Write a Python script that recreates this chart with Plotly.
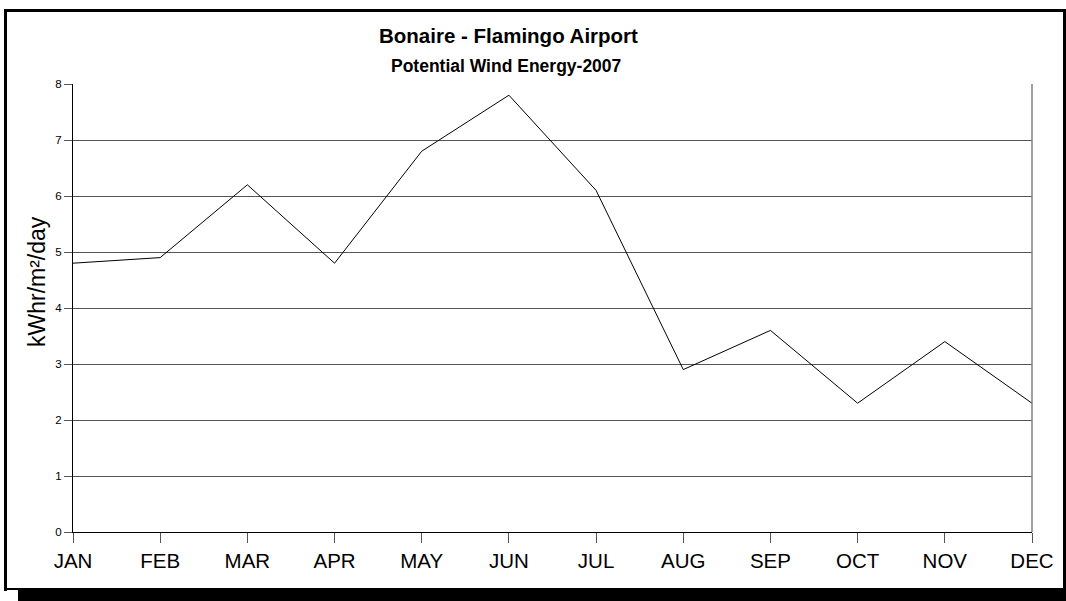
import plotly.graph_objects as go

months = ["JAN", "FEB", "MAR", "APR", "MAY", "JUN", "JUL", "AUG", "SEP", "OCT", "NOV", "DEC"]
energy = [4.8, 4.9, 6.2, 4.8, 6.8, 7.8, 6.1, 2.9, 3.6, 2.3, 3.4, 2.3]
y_ticks = [0, 1, 2, 3, 4, 5, 6, 7, 8]

W, H = 1066, 601
L, R, T, B = 73, 1032, 84, 532

def px(x):
    return (x - L) / (R - L)

def py(y):
    return (B - y) / (B - T)

fig = go.Figure()
fig.add_trace(go.Scatter(x=list(range(len(months))), y=energy, mode="lines",
                         line=dict(color="black", width=1), showlegend=False,
                         hoverinfo="skip"))

shapes = []
def rect(x0, y0, x1, y1, color="black"):
    shapes.append(dict(type="rect", xref="paper", yref="paper",
                       x0=px(x0), x1=px(x1), y0=py(y0), y1=py(y1),
                       fillcolor=color, line=dict(width=0), layer="above"))

# outer frame with shadow
rect(4, 9, 1066, 12)
rect(4, 9, 7, 591)
rect(1063, 9, 1066, 601)
rect(4, 588, 1066, 590)
rect(18, 590, 1066, 601)
# right edge of plot area
shapes.append(dict(type="line", xref="paper", yref="paper", x0=1, x1=1, y0=0, y1=1,
                   line=dict(color="#808080", width=1.5)))

fig.update_layout(
    width=W, height=H,
    margin=dict(l=L, r=W - R, t=T, b=H - B),
    paper_bgcolor="white", plot_bgcolor="white",
    shapes=shapes,
    xaxis=dict(range=[0, 11], tickmode="array", tickvals=list(range(12)), ticktext=months,
               showgrid=False, zeroline=False, showline=True, linecolor="black", linewidth=1,
               ticks="outside", ticklen=10, tickcolor="#555", tickwidth=1,
               tickfont=dict(family="Liberation Sans, Arial", size=20.5, color="black"),
               fixedrange=True),
    yaxis=dict(range=[0, 8], tickmode="array", tickvals=y_ticks,
               showgrid=True, gridcolor="#555", gridwidth=1, zeroline=False,
               showline=True, linecolor="black", linewidth=1,
               ticks="outside", ticklen=8, tickcolor="#555",
               tickfont=dict(family="Liberation Sans, Arial", size=11.5, color="black"),
               fixedrange=True),
    annotations=[
        dict(text="<b>Bonaire - Flamingo Airport</b>", xref="paper", yref="paper",
             x=px(508), y=py(35.5), showarrow=False, xanchor="center", yanchor="middle",
             font=dict(family="Liberation Sans, Arial", size=20.5, color="black")),
        dict(text="<b>Potential Wind Energy-2007</b>", xref="paper", yref="paper",
             x=px(506), y=py(66), showarrow=False, xanchor="center", yanchor="middle",
             font=dict(family="Liberation Sans, Arial", size=17.5, color="black")),
        dict(text="kWhr/m²/day", xref="paper", yref="paper", textangle=-90,
             x=px(37), y=py(282), showarrow=False, xanchor="center", yanchor="middle",
             font=dict(family="Liberation Sans, Arial", size=23, color="black")),
    ],
)

fig.write_html("out.html", config={"displayModeBar": False},
               post_script="document.body.style.margin='0';document.body.style.overflow='hidden';")
